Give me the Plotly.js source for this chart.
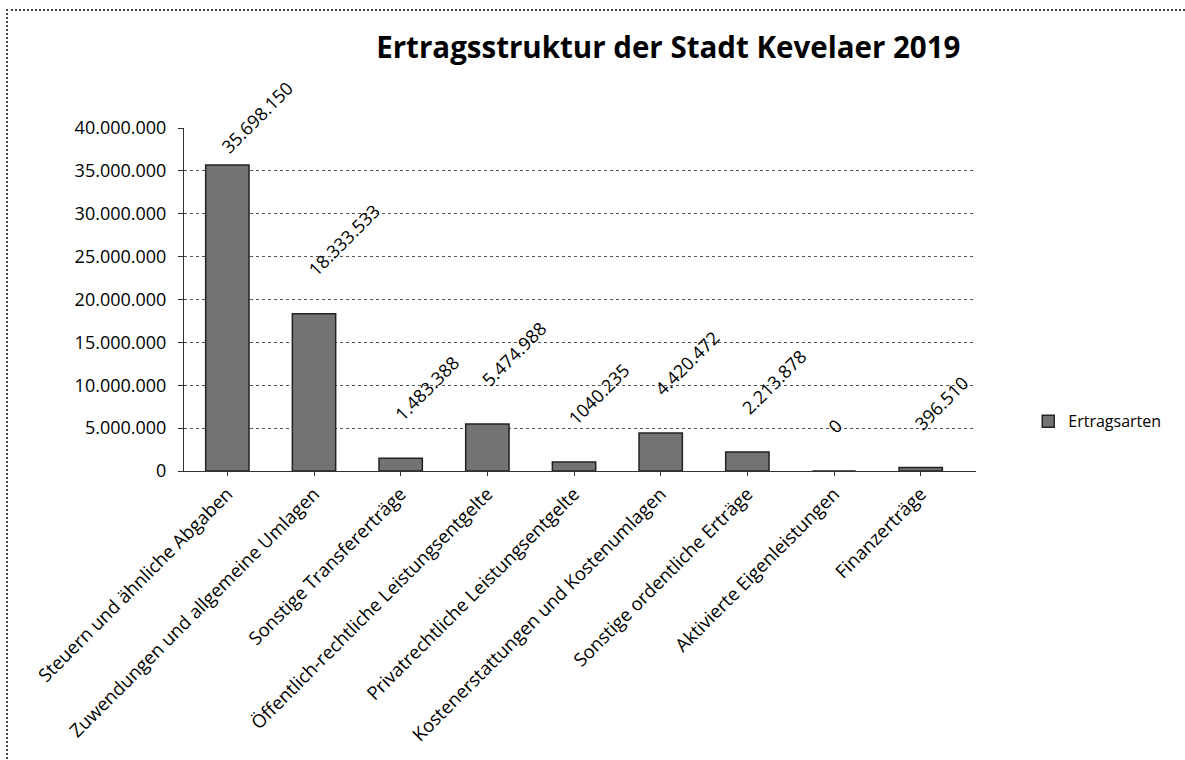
<!DOCTYPE html>
<html>
<head>
<meta charset="utf-8">
<script src="https://cdn.plot.ly/plotly-3.0.1.min.js"></script>
<style>
  html, body { margin: 0; padding: 0; background: #fff; }
  #frame { position: absolute; left: 6px; top: 9px; width: 1185px; height: 760px;
           border-left: 2px dotted #444; border-top: 2px dotted #444; }
  #chart { position: absolute; left: 0; top: 0; width: 1185px; height: 760px; }
</style>
</head>
<body>
<div id="frame"></div>
<div id="chart"></div>
<script>
const categories = [
  "Steuern und ähnliche Abgaben",
  "Zuwendungen und allgemeine Umlagen",
  "Sonstige Transfererträge",
  "Öffentlich-rechtliche Leistungsentgelte",
  "Privatrechtliche Leistungsentgelte",
  "Kostenerstattungen und Kostenumlagen",
  "Sonstige ordentliche Erträge",
  "Aktivierte Eigenleistungen",
  "Finanzerträge"
];
const values = [35698150, 18333533, 1483388, 5474988, 1040235, 4420472, 2213878, 0, 396510];
const valueLabels = ["35.698.150", "18.333.533", "1.483.388", "5.474.988", "1040.235", "4.420.472", "2.213.878", "0", "396.510"];
const seriesName = "Ertragsarten";
const yTicks = [0, 5000000, 10000000, 15000000, 20000000, 25000000, 30000000, 35000000, 40000000];

const trace = {
  type: "bar",
  x: categories,
  y: values,
  name: seriesName,
  width: 0.5,
  marker: { color: "#737373", line: { color: "#222", width: 1.5 } },
  hoverinfo: "x+y"
};

const annotations = categories.map((c, i) => ({
  x: c, y: values[i], xref: "x", yref: "y",
  text: valueLabels[i], showarrow: false,
  textangle: -45, xanchor: "left", yanchor: "bottom",
  xshift: -14, yshift: i === 0 ? 4 : 30,
  font: { family: "Open Sans, sans-serif", size: 18, color: "#000" }
}));

const layout = {
  width: 1185, height: 760,
  paper_bgcolor: "rgba(0,0,0,0)", plot_bgcolor: "#fff",
  margin: { l: 184, r: 209, t: 128, b: 289 },
  separators: ",.",
  title: {
    text: "<b>Ertragsstruktur der Stadt Kevelaer 2019</b>",
    x: 0.564, xanchor: "center", xref: "container",
    y: 0.937, yanchor: "middle", yref: "container",
    font: { family: "Open Sans, sans-serif", size: 29.5, color: "#000" }
  },
  xaxis: {
    type: "category",
    automargin: false,
    tickangle: -45,
    tickfont: { family: "Open Sans, sans-serif", size: 18.5, color: "#000" },
    showline: true, linecolor: "#333", linewidth: 1,
    ticks: "outside", ticklen: 4, tickcolor: "#333",
    showgrid: false
  },
  yaxis: {
    automargin: false,
    range: [0, 40000000],
    tickvals: yTicks,
    tickformat: ",.0f",
    tickfont: { family: "Open Sans, sans-serif", size: 18, color: "#000" },
    ticklabelstandoff: 8,
    showgrid: true, gridcolor: "#555", gridwidth: 1, griddash: "dot",
    showline: true, linecolor: "#333", linewidth: 1,
    ticks: "outside", ticklen: 5, tickcolor: "#333",
    zeroline: false
  },
  showlegend: true,
  legend: {
    x: 1.066, xanchor: "left", y: 0.145, yanchor: "middle",
    font: { family: "Open Sans, sans-serif", size: 16, color: "#000" },
    bgcolor: "rgba(0,0,0,0)"
  },
  annotations: annotations
};

Plotly.newPlot("chart", [trace], layout, { displayModeBar: false, responsive: false });
</script>
</body>
</html>
